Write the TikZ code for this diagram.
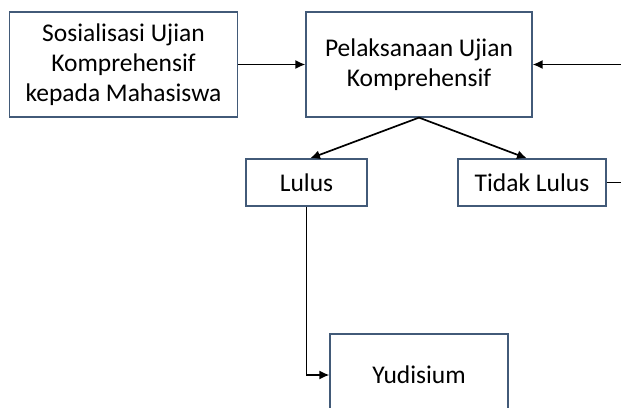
\documentclass[tikz,border=0pt]{standalone}
\usepackage{fontspec}
\setmainfont{Carlito}
\usetikzlibrary{arrows.meta,calc}
\definecolor{boxline}{RGB}{66,90,120}
\tikzset{
  box/.style={draw=boxline, line width=1.2pt, fill=white, align=center, inner sep=0pt,
    font=\fontsize{25.5}{30}\selectfont},
  conn/.style={line width=1.7pt, -{Latex[length=10pt,width=9pt]}},
  plain/.style={line width=1.7pt}
}
\begin{document}
\begin{tikzpicture}[x=1pt,y=-1pt]
\useasboundingbox (0,0) rectangle (621,407);
\node[box, minimum width=228pt, minimum height=105pt] (sos) at (123.5,64.5)
  {Sosialisasi Ujian\\Komprehensif\\kepada Mahasiswa};
\node[box, minimum width=226pt, minimum height=105pt] (pel) at (419,64.5)
  {Pelaksanaan Ujian\\Komprehensif};
\node[box, minimum width=121pt, minimum height=47pt] (lulus) at (306.5,182.5) {Lulus};
\node[box, minimum width=148pt, minimum height=47pt] (tidak) at (532,182.5) {Tidak Lulus};
\node[box, minimum width=178pt, minimum height=82pt] (yud) at (419,375) {Yudisium};
\coordinate (r1) at (622,64.5);
\coordinate (r2) at (622,182.5);
\draw[conn] (sos.east) -- (pel.west);
\draw[conn] (r1) -- (pel.east);
\draw[plain] (tidak.east) -- (r2);
\draw[conn] (pel.south) -- ($(lulus.north)+(3.5,0)$);
\draw[conn] (pel.south) -- ($(tidak.north)+(-5,0)$);
\draw[conn] (lulus.south) |- (yud.west);
\end{tikzpicture}
\end{document}
